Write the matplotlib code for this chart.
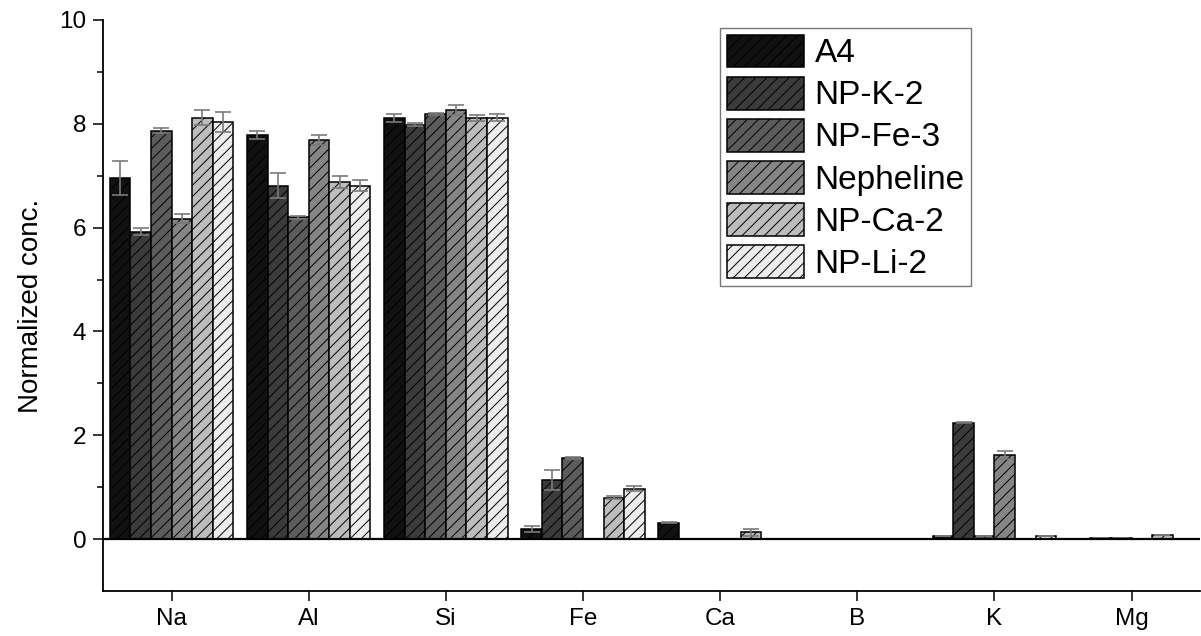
import numpy as np
import matplotlib.pyplot as plt

plt.switch_backend('Agg')
plt.rcParams['font.family'] = ['Liberation Sans', 'DejaVu Sans']
plt.rcParams['hatch.linewidth'] = 0.7

# DATA
elements = ['Na', 'Al', 'Si', 'Fe', 'Ca', 'B', 'K', 'Mg']
series_names = ['A4', 'NP-K-2', 'NP-Fe-3', 'Nepheline', 'NP-Ca-2', 'NP-Li-2']

a4 = [6.95, 7.79, 8.11, 0.20, 0.31, 0.0, 0.06, 0.01]
a4_err = [0.33, 0.08, 0.07, 0.06, 0.01, 0.0, 0.0, 0.0]
np_k2 = [5.92, 6.81, 7.98, 1.14, 0.0, 0.0, 2.24, 0.02]
np_k2_err = [0.07, 0.24, 0.03, 0.19, 0.0, 0.0, 0.01, 0.0]
np_fe3 = [7.87, 6.20, 8.19, 1.56, 0.0, 0.0, 0.05, 0.02]
np_fe3_err = [0.04, 0.03, 0.02, 0.02, 0.0, 0.0, 0.0, 0.0]
nepheline = [6.17, 7.69, 8.27, 0.0, 0.0, 0.0, 1.62, 0.0]
nepheline_err = [0.09, 0.10, 0.10, 0.0, 0.0, 0.0, 0.08, 0.0]
np_ca2 = [8.12, 6.88, 8.11, 0.80, 0.13, 0.0, 0.0, 0.08]
np_ca2_err = [0.15, 0.11, 0.05, 0.03, 0.07, 0.0, 0.0, 0.0]
np_li2 = [8.03, 6.81, 8.12, 0.97, 0.01, 0.0, 0.06, 0.01]
np_li2_err = [0.19, 0.11, 0.07, 0.05, 0.0, 0.0, 0.0, 0.0]

values = [a4, np_k2, np_fe3, nepheline, np_ca2, np_li2]
errors = [a4_err, np_k2_err, np_fe3_err, nepheline_err, np_ca2_err, np_li2_err]

# STYLE
fills = ['#111111', '#3b3b3b', '#5c5c5c', '#858585', '#bdbdbd', '#ececec']
bar_w = 0.15

fig = plt.figure(figsize=(12.01, 6.36), dpi=100)
ax = fig.add_axes([0.0858, 0.0708, 0.9135, 0.8978])

x = np.arange(1, len(elements) + 1)
offsets = (np.arange(len(series_names)) - (len(series_names) - 1) / 2) * bar_w

handles = []
for i, name in enumerate(series_names):
    b = ax.bar(x + offsets[i], values[i], width=bar_w, color=fills[i],
               edgecolor='black', linewidth=1.1, hatch='///', label=name,
               zorder=2)
    ax.errorbar(x + offsets[i], values[i], yerr=errors[i], fmt='none',
                ecolor='#7a7a7a', elinewidth=1.2, capsize=6, capthick=1.2,
                zorder=3)
    handles.append(b)

ax.axhline(0, color='black', linewidth=1.6, zorder=4)

ax.set_xlim(0.5, 8.5)
ax.set_ylim(-1, 10)
ax.set_xticks(x)
ax.set_xticklabels(elements)
ax.set_yticks([0, 2, 4, 6, 8, 10])
ax.set_yticks([1, 3, 5, 7, 9], minor=True)
ax.tick_params(axis='both', which='major', direction='out', length=7,
               width=1.1, labelsize=17.5, pad=5)
ax.tick_params(axis='y', which='minor', direction='out', length=4, width=1.1)

ax.spines['top'].set_visible(False)
ax.spines['right'].set_visible(False)
ax.spines['left'].set_linewidth(1.3)
ax.spines['bottom'].set_linewidth(1.3)

ax.set_ylabel('Normalized conc.', fontsize=20, labelpad=11)

leg = ax.legend(handles=handles, loc='upper left',
                bbox_to_anchor=(0.5625, 0.986), borderaxespad=0,
                fontsize=24, frameon=True, fancybox=False,
                handlelength=2.3, handleheight=1.14, labelspacing=0.22,
                handletextpad=0.33, borderpad=0.2)
leg.get_frame().set_edgecolor('#555555')
leg.get_frame().set_linewidth(1.0)

fig.savefig('out.png', dpi=100)
